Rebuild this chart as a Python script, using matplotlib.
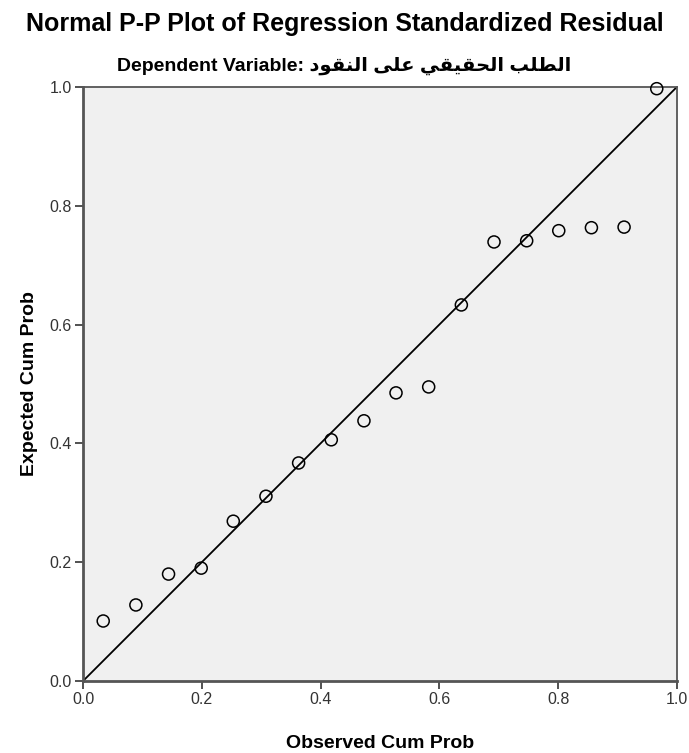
import matplotlib
matplotlib.use('Agg')
import matplotlib.pyplot as plt

# Valores (P-P plot de residuos estandarizados)
observed = [0.034, 0.089, 0.144, 0.199, 0.253, 0.308, 0.363, 0.418, 0.473,
            0.527, 0.582, 0.637, 0.692, 0.747, 0.801, 0.856, 0.911, 0.966]
expected = [0.101, 0.128, 0.180, 0.190, 0.269, 0.311, 0.367, 0.406, 0.438,
            0.485, 0.495, 0.633, 0.739, 0.741, 0.758, 0.763, 0.764, 0.997]
ticks = [0.0, 0.2, 0.4, 0.6, 0.8, 1.0]
tick_labels = ['0.0', '0.2', '0.4', '0.6', '0.8', '1.0']

title = 'Normal P-P Plot of Regression Standardized Residual'
dep_label = 'الطلب الحقيقي على النقود'

# formas de presentación: (aislada, final, inicial, media)
FORMS = {
    'ا': ('\uFE8D', '\uFE8E', None, None),
    'ب': ('\uFE8F', '\uFE90', '\uFE91', '\uFE92'),
    'ط': ('\uFEC1', '\uFEC2', '\uFEC3', '\uFEC4'),
    'ل': ('\uFEDD', '\uFEDE', '\uFEDF', '\uFEE0'),
    'ح': ('\uFEA1', '\uFEA2', '\uFEA3', '\uFEA4'),
    'ق': ('\uFED5', '\uFED6', '\uFED7', '\uFED8'),
    'ي': ('\uFEF1', '\uFEF2', '\uFEF3', '\uFEF4'),
    'ع': ('\uFEC9', '\uFECA', '\uFECB', '\uFECC'),
    'ى': ('\uFEEF', '\uFEF0', None, None),
    'ن': ('\uFEE5', '\uFEE6', '\uFEE7', '\uFEE8'),
    'و': ('\uFEED', '\uFEEE', None, None),
    'د': ('\uFEA9', '\uFEAA', None, None),
}


def shape_word(word):
    out = []
    for i, ch in enumerate(word):
        f = FORMS[ch]
        prev_joins = i > 0 and FORMS[word[i - 1]][2] is not None
        next_joins = i < len(word) - 1 and f[2] is not None
        if prev_joins and next_joins:
            out.append(f[3])
        elif prev_joins:
            out.append(f[1])
        elif next_joins:
            out.append(f[2])
        else:
            out.append(f[0])
    return ''.join(reversed(out))


def visual_arabic(text):
    return ' '.join(shape_word(w) for w in reversed(text.split()))


plt.rcParams['font.family'] = ['Liberation Sans', 'DejaVu Sans']

fig = plt.figure(figsize=(6.89, 7.53), dpi=100)
ax = fig.add_axes([0.1205, 0.0956, 0.862, 0.789])
ax.set_facecolor('#f0f0f0')

ax.plot([0, 1], [0, 1], color='black', lw=1.3, zorder=2)
ax.scatter(observed, expected, s=75, facecolors='none', edgecolors='black',
           linewidths=1.1, zorder=3, clip_on=False)

ax.set_xlim(0, 1)
ax.set_ylim(0, 1)
ax.set_xticks(ticks)
ax.set_xticklabels(tick_labels)
ax.set_yticks(ticks)
ax.set_yticklabels(tick_labels)
ax.tick_params(direction='out', length=6, width=1.2, labelsize=11.5,
               colors='#333333', pad=2)
for side, sp in ax.spines.items():
    sp.set_color('#555555')
    sp.set_linewidth(2.0 if side in ('left', 'bottom') else 1.3)

ax.set_xlabel('Observed Cum Prob', fontsize=14, fontweight='bold', labelpad=20)
ax.set_ylabel('Expected Cum Prob', fontsize=14, fontweight='bold', labelpad=8)

fig.text(0.5, 0.968, title, ha='center', va='center', fontsize=18,
         fontweight='bold')
fig.text(0.5, 0.912, 'Dependent Variable: ' + visual_arabic(dep_label),
         ha='center', va='center', fontsize=14, fontweight='bold')

fig.savefig('out.png', dpi=100)
